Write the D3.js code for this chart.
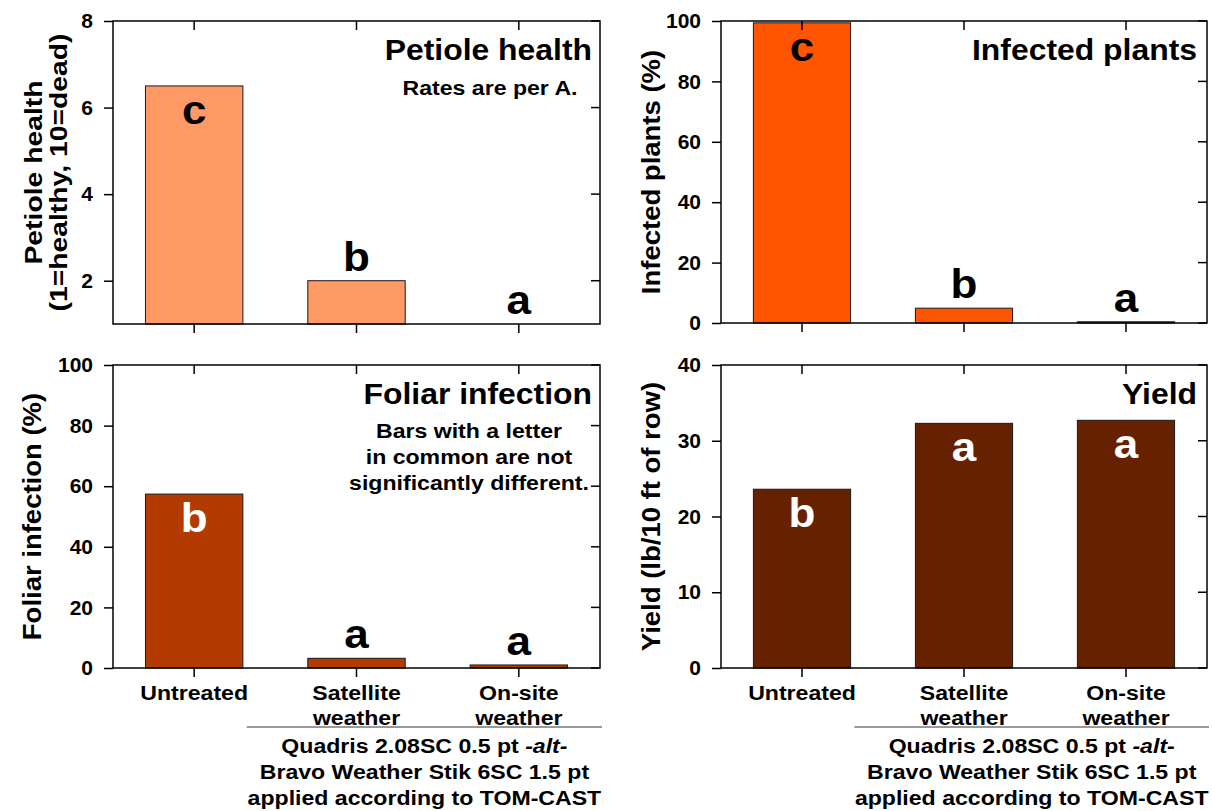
<!DOCTYPE html>
<html>
<head>
<meta charset="utf-8">
<script src="https://cdn.jsdelivr.net/npm/d3@7"></script>
<style>
  body { margin: 0; background: #fff; }
  svg { display: block; font-family: "Liberation Sans", Arial, sans-serif; font-weight: bold; }
</style>
</head>
<body>
<svg id="chart" width="1212" height="811"></svg>
<script>
// data
var categories = ["Untreated", "Satellite weather", "On-site weather"];
var categoryLines = [["Untreated"], ["Satellite", "weather"], ["On-site", "weather"]];

var petioleHealth = [6.5, 2.0, 1.0];
var petioleLetters = ["c", "b", "a"];
var petioleTicks = [2, 4, 6, 8];

var infectedPlants = [99.4, 4.9, 0.4];
var infectedLetters = ["c", "b", "a"];

var foliarInfection = [57.4, 3.2, 1.0];
var foliarLetters = ["b", "a", "a"];

var yieldValues = [23.6, 32.3, 32.7];
var yieldLetters = ["b", "a", "a"];

var percentTicks = [0, 20, 40, 60, 80, 100];
var yieldTicks = [0, 10, 20, 30, 40];

var svg = d3.select("#chart");
var SX = 1.1; // the source font runs a bit wide

// text helper: positioned by transform so it can be stretched
function label(g, x, y, str, size, anchor, rot, sx) {
  return g.append("text")
    .attr("transform", "translate(" + x + "," + y + ") rotate(" + (rot || 0) + ") scale(" + (sx || SX) + ",1)")
    .attr("text-anchor", anchor || "middle")
    .attr("font-size", size)
    .attr("fill", "#000")
    .text(str);
}

var drawPanel = function(p) {
  var g = svg.append("g").attr("transform", "translate(" + p.left + "," + p.top + ")");
  var w = p.width, h = p.height;

  var x = d3.scaleBand().domain(categories).range([0, w])
            .paddingInner(0.4).paddingOuter(0.2);
  var y = d3.scaleLinear().domain(p.domain).range([h, 0]);

  // bars
  g.selectAll("rect.bar")
   .data(p.values)
   .enter()
   .append("rect")
   .classed("bar", true)
   .attr("x", function(d, i) { return x(categories[i]); })
   .attr("y", function(d) { return y(d); })
   .attr("width", x.bandwidth())
   .attr("height", function(d) { return h - y(d); })
   .attr("fill", p.color)
   .attr("stroke", "#1a1a1a")
   .attr("stroke-width", 1);

  // letters: inside tall bars, above short ones
  p.letters.forEach(function(l, i) {
    var top = y(p.values[i]);
    var inside = (h - top) > 60;
    label(g, x(categories[i]) + x.bandwidth() / 2, inside ? top + 38 : top - 10, l, 40, "middle")
      .attr("fill", inside ? p.insideColor : "#000");
  });

  // frame
  g.append("rect").attr("width", w).attr("height", h)
   .attr("fill", "none").attr("stroke", "#000").attr("stroke-width", 1.5);

  // left axis
  var ax = g.append("g").call(d3.axisLeft(y).tickValues(p.ticks).tickFormat(d3.format("d"))
                               .tickSize(9).tickPadding(11));
  ax.select(".domain").remove();
  ax.selectAll("line").attr("stroke", "#000").attr("stroke-width", 1.5);
  ax.selectAll("text").attr("font-size", 21).attr("font-family", "Liberation Sans, Arial, sans-serif")
    .attr("font-weight", "bold").attr("fill", "#000");

  // mirrored ticks on the right, inward
  g.selectAll("line.rt").data(p.ticks).enter().append("line")
   .attr("x1", w).attr("x2", w - 9)
   .attr("y1", function(d) { return y(d); }).attr("y2", function(d) { return y(d); })
   .attr("stroke", "#000").attr("stroke-width", 1.5);

  // category ticks: bottom outward, top inward
  categories.forEach(function(c) {
    var cx = x(c) + x.bandwidth() / 2;
    g.append("line").attr("x1", cx).attr("x2", cx).attr("y1", h).attr("y2", h + 9)
     .attr("stroke", "#000").attr("stroke-width", 1.5);
    g.append("line").attr("x1", cx).attr("x2", cx).attr("y1", 0).attr("y2", 9)
     .attr("stroke", "#000").attr("stroke-width", 1.5);
  });

  // panel title
  label(g, w - p.titleInset, 39, p.title, 29, "end");

  // y title
  p.yTitle.forEach(function(t, i) {
    label(g, p.yTitleX[i], h / 2, t, p.yTitleSize || 25, "middle", -90, p.yTitleSX);
  });

  // notes
  if (p.note) {
    p.note.forEach(function(t, i) {
      label(g, p.noteX, p.noteY + i * 26, t, 21, "middle");
    });
  }

  // category labels and bracket text under the bottom panels
  if (p.showCategories) {
    categoryLines.forEach(function(lines, i) {
      var cx = x(categories[i]) + x.bandwidth() / 2;
      lines.forEach(function(t, j) {
        label(g, cx, h + 32 + j * 25, t, 21, "middle");
      });
    });
    var x0 = x(categories[1]) - 61;
    var x1 = w + 2;
    g.append("line").attr("x1", x0).attr("x2", x1)
     .attr("y1", h + 59).attr("y2", h + 59)
     .attr("stroke", "#333").attr("stroke-width", 1);
    var mid = (x0 + x1) / 2;
    var t1 = label(g, mid, h + 85, "", 21, "middle");
    t1.append("tspan").text("Quadris 2.08SC 0.5 pt ");
    t1.append("tspan").attr("font-style", "italic").text("-alt-");
    label(g, mid, h + 111, "Bravo Weather Stik 6SC 1.5 pt", 21, "middle");
    label(g, mid, h + 137, "applied according to TOM-CAST", 21, "middle");
  }
};

drawPanel({
  left: 113, top: 21, width: 487, height: 303,
  domain: [1, 8], ticks: petioleTicks,
  values: petioleHealth, letters: petioleLetters,
  color: "#ff9966", insideColor: "#000",
  title: "Petiole health", titleInset: 8,
  yTitle: ["Petiole health", "(1=healthy, 10=dead)"], yTitleX: [-71, -46],
  yTitleSize: 24, yTitleSX: 1.18,
  note: ["Rates are per A."], noteX: 377, noteY: 74
});

drawPanel({
  left: 721, top: 21, width: 486, height: 302,
  domain: [0, 100], ticks: percentTicks,
  values: infectedPlants, letters: infectedLetters,
  color: "#ff5500", insideColor: "#000",
  title: "Infected plants", titleInset: 10,
  yTitle: ["Infected plants (%)"], yTitleX: [-61]
});

drawPanel({
  left: 113, top: 365, width: 487, height: 303,
  domain: [0, 100], ticks: percentTicks,
  values: foliarInfection, letters: foliarLetters,
  color: "#b33a00", insideColor: "#fff",
  title: "Foliar infection", titleInset: 8,
  yTitle: ["Foliar infection (%)"], yTitleX: [-72],
  note: ["Bars with a letter", "in common are not", "significantly different."], noteX: 356, noteY: 73,
  showCategories: true
});

drawPanel({
  left: 721, top: 365, width: 486, height: 303,
  domain: [0, 40], ticks: yieldTicks,
  values: yieldValues, letters: yieldLetters,
  color: "#662200", insideColor: "#fff",
  title: "Yield", titleInset: 10,
  yTitle: ["Yield (lb/10 ft of row)"], yTitleX: [-61],
  showCategories: true
});
</script>
</body>
</html>
